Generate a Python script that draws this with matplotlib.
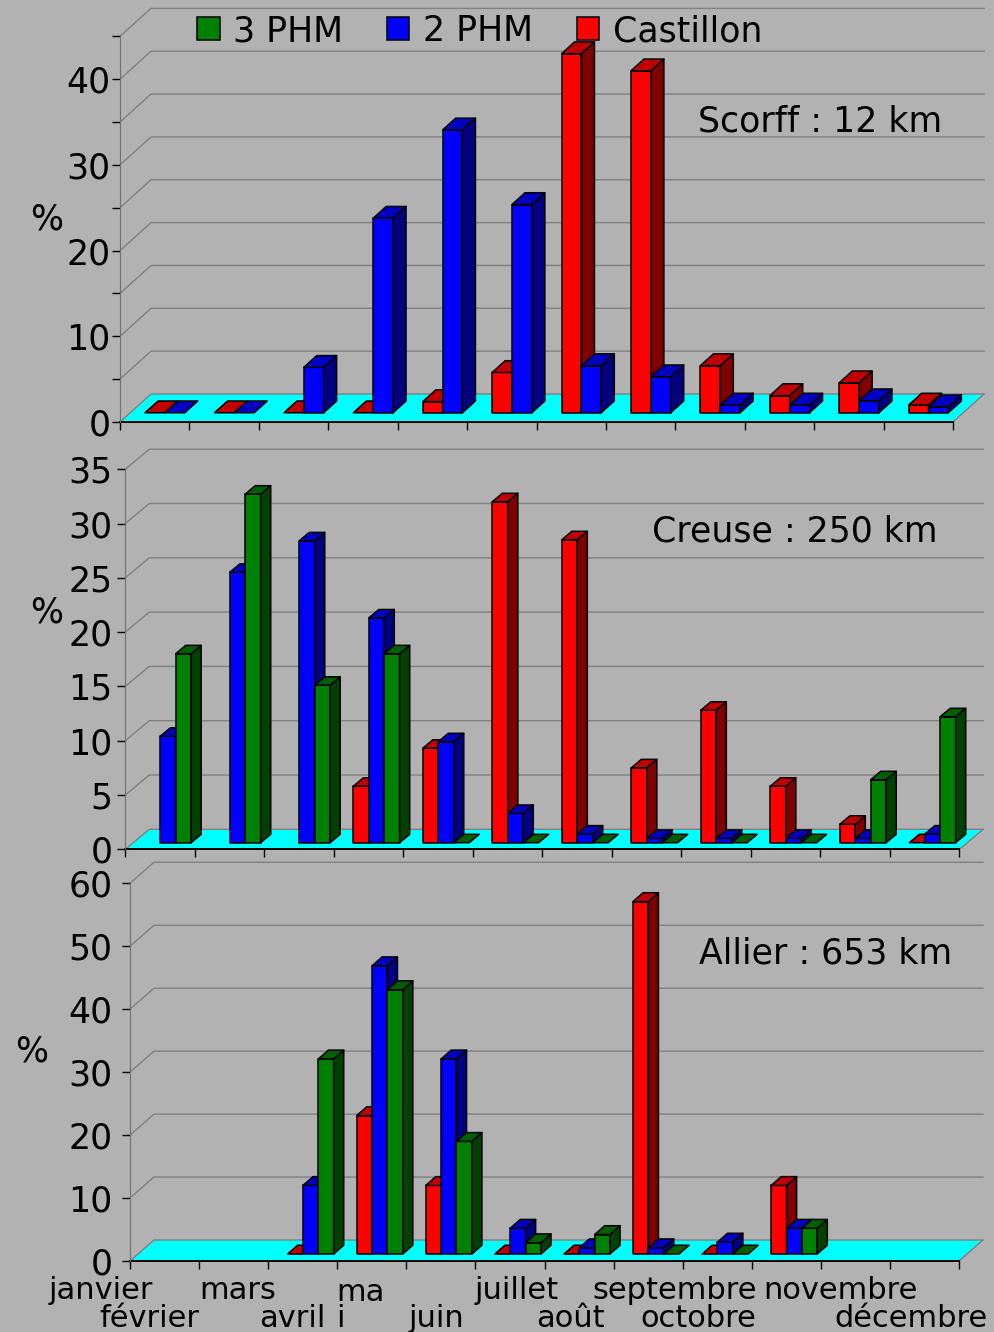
import numpy as np
import matplotlib.pyplot as plt
from matplotlib.patches import Polygon, Patch

W, H = 994, 1332
BG = '#b2b2b2'
GRID = '#808080'
FLOOR = '#00ffff'

nan = np.nan
months = ['janvier', 'février', 'mars', 'avril', 'mai', 'juin', 'juillet',
          'août', 'septembre', 'octobre', 'novembre', 'décembre']

# Scorff : 12 km
scorff_castillon = [0, 0, 0, 0, 1.3, 4.7, 41.9, 39.9, 5.5, 2.0, 3.5, 0.9]
scorff_2phm = [0, 0, 5.3, 22.7, 33.0, 24.3, 5.5, 4.2, 0.9, 0.9, 1.4, 0.7]

# Creuse : 250 km
creuse_castillon = [nan, nan, nan, 5.2, 8.7, 31.4, 27.9, 6.9, 12.2, 5.2, 1.7, 0]
creuse_2phm = [9.8, 24.9, 27.8, 20.7, 9.3, 2.7, 0.8, 0.4, 0.4, 0.4, 0.4, 0.8]
creuse_3phm = [17.4, 32.1, 14.5, 17.4, 0, 0, 0, 0, 0, 0, 5.8, 11.6]

# Allier : 653 km
allier_castillon = [nan, nan, 0, 22.0, 10.9, 0, 0, 56.0, 0, 10.9, nan, nan]
allier_2phm = [nan, nan, 10.9, 45.8, 31.0, 4.1, 1.0, 1.0, 1.9, 4.1, nan, nan]
allier_3phm = [nan, nan, 31.0, 42.0, 17.9, 1.8, 3.1, 0, 0, 4.1, nan, nan]

# (front face, top, side)
COLORS = {
    'Castillon': ('#ff0000', '#c00000', '#800000'),
    '2 PHM': ('#0000ff', '#0000c0', '#000080'),
    '3 PHM': ('#008000', '#006000', '#004000'),
}

# month label centres along the lower axis, in category units
label_pos = [-0.42, 0.28, 1.56, 2.35, 3.34, 4.43, 5.59, 6.37, 7.88, 8.22, 10.29, 11.30]

plt.rcParams['font.family'] = 'DejaVu Sans'
fig = plt.figure(figsize=(W / 100, H / 100), dpi=100, facecolor=BG)

F0, F1 = 0.33, 0.75   # bar depth, as fraction of the floor depth


def px_axes(left, right, base, ppu, dx, dy, top):
    catw = (right - left) / 12
    x_ext = right + dx + 8
    y_top = base - top * ppu - dy - 6
    ax = fig.add_axes([left / W, 1 - base / H, (x_ext - left) / W, (base - y_top) / H])
    ax.set_xlim(0, (x_ext - left) / catw)
    ax.set_ylim(0, (base - y_top) / ppu)
    ax.patch.set_visible(False)
    return ax, dx / catw, dy / ppu


def draw_bar(ax, x0, w, v, DX, DY, cols, z):
    face, topc, side = cols
    a, b = x0, x0 + w
    p = lambda x, y, f: (x + f * DX, y + f * DY)
    kw = dict(edgecolor='black', linewidth=1.1, joinstyle='round', zorder=z)
    if v > 0:
        ax.add_patch(Polygon([p(a, 0, F0), p(b, 0, F0), p(b, v, F0), p(a, v, F0)],
                             facecolor=face, **kw))
        ax.add_patch(Polygon([p(b, 0, F0), p(b, 0, F1), p(b, v, F1), p(b, v, F0)],
                             facecolor=side, **kw))
    ax.add_patch(Polygon([p(a, v, F0), p(b, v, F0), p(b, v, F1), p(a, v, F1)],
                         facecolor=topc, **kw))


def panel(left, right, base, ppu, dx, dy, top, step, lab_step, pad, series):
    ax, DX, DY = px_axes(left, right, base, ppu, dx, dy, top)

    ax.add_patch(Polygon([(0, 0), (12, 0), (12 + DX, DY), (DX, DY)],
                         facecolor=FLOOR, edgecolor='none', zorder=1))
    ax.plot([12, 12 + DX], [0, DY], color=GRID, lw=1, zorder=1.5)
    for v in np.arange(0, top + step / 2, step):
        ax.plot([0, DX, 12 + DX], [v, v + DY, v + DY], color=GRID, lw=1, zorder=1.5)

    n = len(series)
    w = 1 / (n + 1.5)
    z = 3
    for i in range(12):
        for j, (name, vals) in enumerate(series):
            v = vals[i]
            if np.isnan(v):
                continue
            draw_bar(ax, i + 0.75 * w + j * w, w, v, DX, DY, COLORS[name], z)
            z += 0.01

    ticks = np.arange(0, top + step / 2, step)
    ax.set_yticks(ticks)
    ax.set_yticklabels([str(int(t)) if t % lab_step == 0 else '' for t in ticks])
    ax.set_xticks(range(13))
    ax.set_xticklabels([])
    ax.tick_params(axis='y', length=6, width=1, color='black', pad=pad, labelsize=25)
    ax.tick_params(axis='x', length=6, width=1, color='black')
    for s in ('top', 'right'):
        ax.spines[s].set_visible(False)
    ax.spines['left'].set_bounds(0, top)
    ax.spines['left'].set_color('#707070')
    ax.spines['bottom'].set_bounds(0, 12)
    ax.spines['bottom'].set_linewidth(1.4)
    ax.spines['bottom'].set_zorder(2)
    return ax


panel(120, 953, 422, 8.57, 31, 28, 45, 5, 10, 1,
      [('Castillon', scorff_castillon), ('2 PHM', scorff_2phm)])
panel(125.3, 959.3, 849.3, 10.86, 24, 20, 35, 5, 5, 3,
      [('Castillon', creuse_castillon), ('2 PHM', creuse_2phm), ('3 PHM', creuse_3phm)])
ax3 = panel(130, 959, 1261, 6.295, 24, 21, 60, 10, 10, 6.5,
            [('Castillon', allier_castillon), ('2 PHM', allier_2phm), ('3 PHM', allier_3phm)])

# month names under the last panel, on two staggered rows
for k, name in enumerate(months):
    y_px = 1299 if k % 2 == 0 else 1327
    if name == 'mai':
        # too wide for its slot: wrapped, last letter drops to the lower row
        ax3.text(label_pos[k], (1261 - 1327) / 6.295, 'ma\ni', ha='center', va='baseline',
                 fontsize=22, multialignment='left', linespacing=0.85)
    else:
        ax3.text(label_pos[k], (1261 - y_px) / 6.295, name, ha='center', va='baseline',
                 fontsize=22)


def ftext(x, y, s, **kw):
    fig.text(x / W, 1 - y / H, s, fontsize=25, **kw)


ftext(698, 131.7, 'Scorff : 12 km', ha='left', va='baseline')
ftext(652, 541.7, 'Creuse : 250 km', ha='left', va='baseline')
ftext(699, 964, 'Allier : 653 km', ha='left', va='baseline')
for x, y in [(47, 230), (47, 623), (32, 1062)]:
    ftext(x, y, '%', ha='center', va='baseline')

handles = [Patch(facecolor=COLORS[k][0], edgecolor='black', linewidth=1.1, label=k)
           for k in ('3 PHM', '2 PHM', 'Castillon')]
fig.legend(handles=handles, ncol=3, frameon=False, fontsize=25, loc='center left',
           bbox_to_anchor=(197 / W, 1 - 31 / H), borderpad=0, borderaxespad=0,
           handlelength=0.65, handleheight=0.65, handletextpad=0.4, columnspacing=1.25)

fig.savefig('out.png', dpi=100, facecolor=BG)
